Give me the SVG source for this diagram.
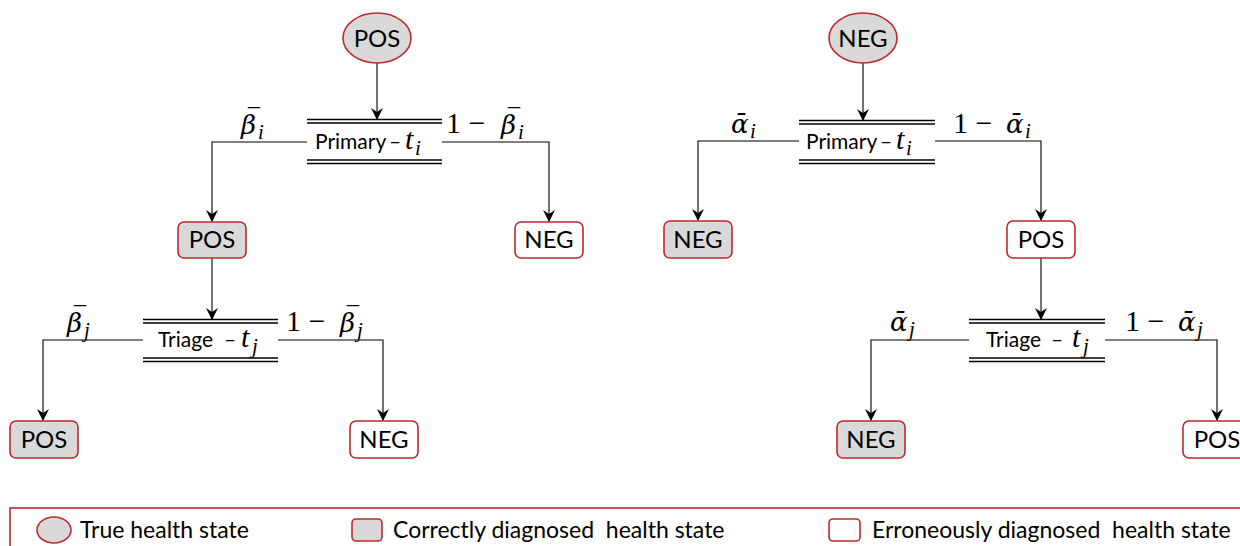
<svg xmlns="http://www.w3.org/2000/svg" width="1240" height="546" viewBox="0 0 1240 546">
<style>
.true{fill:#d9d9d9;stroke:#c0282d;stroke-width:1.6}
.ok{fill:#d9d9d9;stroke:#c0282d;stroke-width:1.6}
.err{fill:#fff;stroke:#c0282d;stroke-width:1.6}
.lbl{font-family:Lato,"Open Sans",sans-serif;font-size:24px;fill:#000;text-anchor:middle}
.tst{font-family:Lato,"Open Sans",sans-serif;font-size:21px;fill:#000}
.g{font-family:"DejaVu Serif",serif;font-style:italic;font-size:26px;fill:#000}
.bar{font-family:"Liberation Serif",serif;font-size:24px;fill:#000}
.m{font-family:"Liberation Serif",serif;font-style:italic;font-size:30px;fill:#000}
.s{font-family:"Liberation Serif",serif;font-style:italic;font-size:21px;fill:#000}
.mr{font-family:"Liberation Serif",serif;font-size:30px;fill:#000}
.leg{font-family:Lato,"Open Sans",sans-serif;font-size:23px;fill:#000}
.dl{stroke:#000;stroke-width:1.3}
.c{fill:none;stroke:#000;stroke-width:1.1}
</style>
<defs>
<marker id="ah" viewBox="0 0 12 12" refX="11" refY="6" markerWidth="12" markerHeight="12" markerUnits="userSpaceOnUse" orient="auto">
<path d="M0,0 L12,6 L0,12 L4,6 Z" fill="#000"/>
</marker>
</defs>
<g id="connectors">
<line class="c" x1="377" y1="63" x2="377" y2="119" marker-end="url(#ah)"/>
<polyline class="c" points="307,142 212,142 212,221" marker-end="url(#ah)"/>
<polyline class="c" points="442,142 549,142 549,221" marker-end="url(#ah)"/>
<line class="c" x1="212" y1="258" x2="212" y2="319" marker-end="url(#ah)"/>
<polyline class="c" points="143,340 43,340 43,420" marker-end="url(#ah)"/>
<polyline class="c" points="278,340 383,340 383,420" marker-end="url(#ah)"/>
<line class="c" x1="863" y1="63" x2="863" y2="120" marker-end="url(#ah)"/>
<polyline class="c" points="799,141 698,141 698,220" marker-end="url(#ah)"/>
<polyline class="c" points="935,141 1041,141 1041,220" marker-end="url(#ah)"/>
<line class="c" x1="1041" y1="258" x2="1041" y2="319" marker-end="url(#ah)"/>
<polyline class="c" points="969,340 871,340 871,420" marker-end="url(#ah)"/>
<polyline class="c" points="1105,340 1217,340 1217,420" marker-end="url(#ah)"/>
</g>
<g id="labels">
<text class="g" x="241" y="134">β</text><text class="bar" x="248" y="125">¯</text><text class="s" x="258" y="139">i</text>
<text class="mr" x="446" y="133">1 −</text><text class="g" x="501" y="134">β</text><text class="bar" x="508" y="125">¯</text><text class="s" x="518" y="139">i</text>
<text class="g" x="67" y="332">β</text><text class="bar" x="74" y="323">¯</text><text class="s" x="84" y="337">j</text>
<text class="mr" x="286" y="331">1 −</text><text class="g" x="340" y="332">β</text><text class="bar" x="347" y="323">¯</text><text class="s" x="357" y="337">j</text>
<text class="g" x="731" y="133">ᾱ</text><text class="s" x="750" y="138">i</text>
<text class="mr" x="953" y="133">1 −</text><text class="g" x="1006" y="133">ᾱ</text><text class="s" x="1025" y="138">i</text>
<text class="g" x="890" y="331">ᾱ</text><text class="s" x="909" y="336">j</text>
<text class="mr" x="1125" y="331">1 −</text><text class="g" x="1178" y="331">ᾱ</text><text class="s" x="1197" y="336">j</text>
</g>
<g id="n-pos-true">
<ellipse class="true" cx="377" cy="38" rx="34" ry="25"/>
<text class="lbl" x="377" y="47">POS</text>
</g>
<g id="n-primary-l">
<line class="dl" x1="307" y1="119.5" x2="442" y2="119.5"/><line class="dl" x1="307" y1="123" x2="442" y2="123"/>
<line class="dl" x1="307" y1="160" x2="442" y2="160"/><line class="dl" x1="307" y1="163.5" x2="442" y2="163.5"/>
<text class="tst" x="315" y="149">Primary</text><text class="tst" x="389" y="149">–</text><text class="m" x="405" y="149" font-size="28">t</text><text class="s" x="415" y="155" font-size="18">i</text>
</g>
<g id="n-pos-1">
<rect class="ok" x="178" y="222" width="68" height="36" rx="6"/>
<text class="lbl" x="212" y="248">POS</text>
</g>
<g id="n-neg-1">
<rect class="err" x="515" y="222" width="68" height="36" rx="6"/>
<text class="lbl" x="549" y="248">NEG</text>
</g>
<g id="n-triage-l">
<line class="dl" x1="143" y1="319.5" x2="278" y2="319.5"/><line class="dl" x1="143" y1="323" x2="278" y2="323"/>
<line class="dl" x1="143" y1="358" x2="278" y2="358"/><line class="dl" x1="143" y1="361.5" x2="278" y2="361.5"/>
<text class="tst" x="158" y="347" font-size="22">Triage</text><text class="tst" x="224" y="347">–</text><text class="m" x="241" y="347" font-size="28">t</text><text class="s" x="252" y="353" font-size="18">j</text>
</g>
<g id="n-pos-2">
<rect class="ok" x="10" y="421" width="68" height="37" rx="6"/>
<text class="lbl" x="44" y="448">POS</text>
</g>
<g id="n-neg-2">
<rect class="err" x="350" y="421" width="68" height="37" rx="6"/>
<text class="lbl" x="384" y="448">NEG</text>
</g>
<g id="n-neg-true">
<ellipse class="true" cx="863" cy="38" rx="34" ry="25"/>
<text class="lbl" x="863" y="47">NEG</text>
</g>
<g id="n-primary-r">
<line class="dl" x1="799" y1="120.5" x2="935" y2="120.5"/><line class="dl" x1="799" y1="124" x2="935" y2="124"/>
<line class="dl" x1="799" y1="160" x2="935" y2="160"/><line class="dl" x1="799" y1="163.5" x2="935" y2="163.5"/>
<text class="tst" x="806" y="149">Primary</text><text class="tst" x="880" y="149">–</text><text class="m" x="896" y="149" font-size="28">t</text><text class="s" x="906" y="155" font-size="18">i</text>
</g>
<g id="n-neg-3">
<rect class="ok" x="664" y="221" width="68" height="37" rx="6"/>
<text class="lbl" x="698" y="248">NEG</text>
</g>
<g id="n-pos-3">
<rect class="err" x="1007" y="221" width="68" height="37" rx="6"/>
<text class="lbl" x="1041" y="248">POS</text>
</g>
<g id="n-triage-r">
<line class="dl" x1="969" y1="319.5" x2="1105" y2="319.5"/><line class="dl" x1="969" y1="323" x2="1105" y2="323"/>
<line class="dl" x1="969" y1="358" x2="1105" y2="358"/><line class="dl" x1="969" y1="361.5" x2="1105" y2="361.5"/>
<text class="tst" x="986" y="347" font-size="22">Triage</text><text class="tst" x="1051" y="347">–</text><text class="m" x="1072" y="347" font-size="28">t</text><text class="s" x="1083" y="353" font-size="18">j</text>
</g>
<g id="n-neg-4">
<rect class="ok" x="837" y="421" width="68" height="37" rx="6"/>
<text class="lbl" x="871" y="448">NEG</text>
</g>
<g id="n-pos-4">
<rect class="err" x="1183" y="421" width="68" height="37" rx="6"/>
<text class="lbl" x="1217" y="448">POS</text>
</g>
<g id="legend">
<rect x="10" y="508" width="1260" height="60" fill="none" stroke="#c0282d" stroke-width="1.6"/>
<ellipse class="true" cx="54" cy="530" rx="17" ry="13"/>
<text class="leg" x="80" y="538">True health state</text>
<rect class="ok" x="352" y="519" width="30" height="22" rx="4"/>
<text class="leg" x="393" y="538" xml:space="preserve">Correctly diagnosed  health state</text>
<rect class="err" x="829" y="519" width="31" height="22" rx="4"/>
<text class="leg" x="872" y="538" xml:space="preserve">Erroneously diagnosed  health state</text>
</g>
</svg>
